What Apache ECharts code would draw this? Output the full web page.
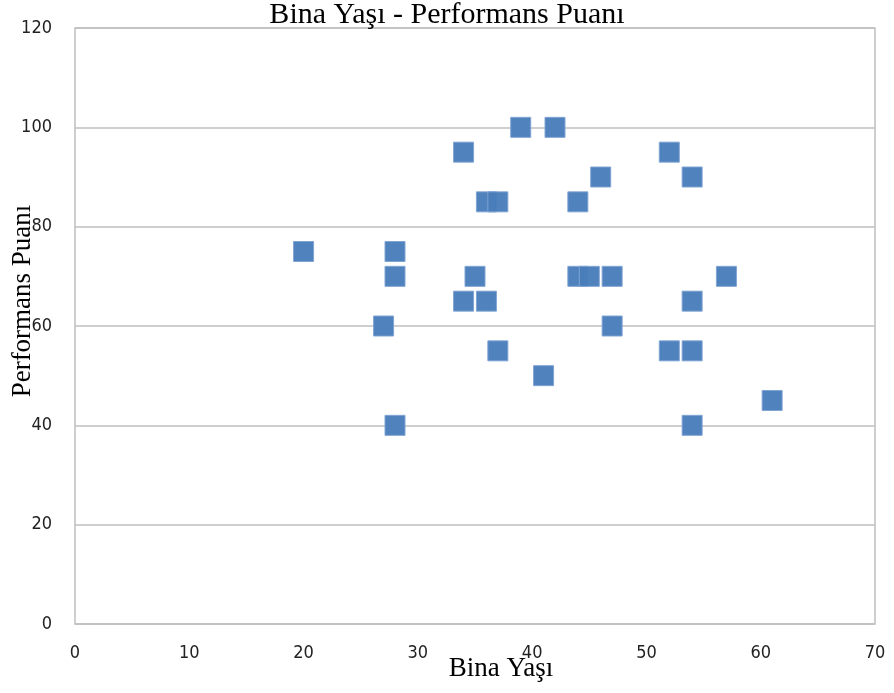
<!DOCTYPE html>
<html><head><meta charset="utf-8">
<script src="https://cdn.jsdelivr.net/npm/echarts@6/dist/echarts.min.js"></script>
<style>html,body{margin:0;padding:0;background:#fff}#c{width:894px;height:693px}</style>
</head><body><div id="c"></div>
<script>
const titleText = "Bina Yaşı - Performans Puanı";
const xName = "Bina Yaşı";
const yName = "Performans Puanı";
const ages = [20, 27, 28, 28, 28, 34, 34, 35, 36, 37, 36, 37, 39, 41, 42, 44, 44, 45, 46, 47, 47, 52, 52, 54, 54, 54, 54, 57, 61];
const scores = [75, 60, 75, 70, 40, 95, 65, 70, 85, 85, 65, 55, 100, 50, 100, 85, 70, 70, 90, 70, 60, 95, 55, 90, 65, 55, 40, 70, 45];
const data = ages.map((a, i) => [a, scores[i]]);
const chart = echarts.init(document.getElementById('c'), null, {renderer: 'canvas'});
const tickFont = {fontFamily: 'DejaVu Sans Condensed, Liberation Sans Narrow, sans-serif', fontSize: 18, color: '#222'};
chart.setOption({
  animation: false,
  backgroundColor: '#fff',
  title: {text: titleText, left: 'center', top: -5, textStyle: {fontFamily: 'Liberation Serif, Times New Roman, serif', fontWeight: 'normal', fontSize: 30, color: '#000'}},
  grid: {left: 75, right: 19, top: 28, bottom: 69, outerBoundsMode: 'none', containLabel: false, show: true, borderColor: '#BFBFBF', borderWidth: 1.5},
  xAxis: {type: 'value', min: 0, max: 70, interval: 10, name: xName, nameLocation: 'middle', nameGap: 31, nameMoveOverlap: false,
    nameTextStyle: {fontFamily: 'Liberation Serif, serif', fontSize: 27, color: '#000', padding: [0, 0, 0, 52]},
    axisLine: {show: false}, axisTick: {show: false}, splitLine: {show: false},
    axisLabel: Object.assign({margin: 20}, tickFont)},
  yAxis: {type: 'value', min: 0, max: 120, interval: 20, name: yName, nameLocation: 'middle', nameGap: 39, nameMoveOverlap: false,
    nameTextStyle: {fontFamily: 'Liberation Serif, serif', fontSize: 27, color: '#000', padding: [0, 0, 0, 50]},
    axisLine: {show: false}, axisTick: {show: false},
    splitLine: {lineStyle: {color: '#BFBFBF', width: 1.5}},
    axisLabel: Object.assign({margin: 23}, tickFont)},
  series: [{type: 'scatter', data: data, symbol: 'rect', symbolSize: 20,
    itemStyle: {color: '#4A7EBB', borderColor: '#7FA3D3', borderWidth: 1, opacity: 0.97}}]
});
</script></body></html>
